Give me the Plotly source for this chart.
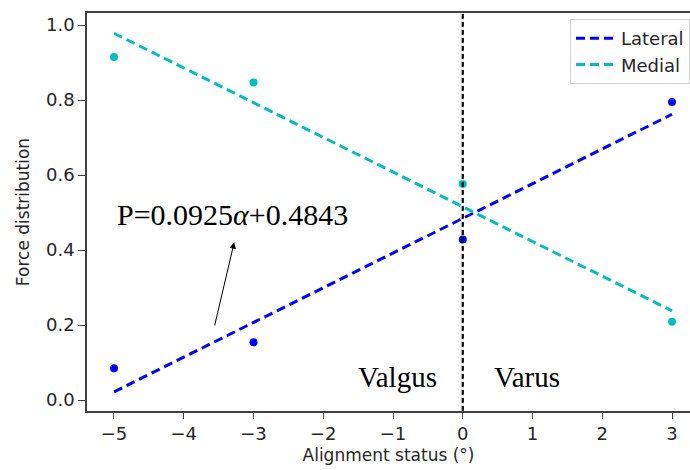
import plotly.graph_objects as go

# Data
angles = [-5, -3, 0, 3]
lateral = [0.085, 0.154, 0.428, 0.795]
medial = [0.915, 0.847, 0.576, 0.209]
fit_x = [-5, 3]
lateral_fit = [0.022, 0.762]
medial_fit = [0.978, 0.238]
x_ticks = [-5, -4, -3, -2, -1, 0, 1, 2, 3]
y_ticks = [0.0, 0.2, 0.4, 0.6, 0.8, 1.0]

BLUE = "#0000FF"
CYAN = "#00BFBF"
FONT = "DejaVu Sans"

fig = go.Figure()
fig.add_trace(go.Scatter(x=fit_x, y=lateral_fit, mode="lines", name="Lateral",
                         line=dict(color=BLUE, width=3, dash="9px,5px")))
fig.add_trace(go.Scatter(x=fit_x, y=medial_fit, mode="lines", name="Medial",
                         line=dict(color=CYAN, width=3, dash="9px,5px")))
fig.add_trace(go.Scatter(x=angles, y=lateral, mode="markers", showlegend=False,
                         marker=dict(color=BLUE, size=8)))
fig.add_trace(go.Scatter(x=angles, y=medial, mode="markers", showlegend=False,
                         marker=dict(color=CYAN, size=8)))

fig.add_shape(type="line", x0=0, x1=0, y0=0, y1=1, xref="x", yref="paper",
              line=dict(color="black", width=2.2, dash="5px,3px"))

fig.add_annotation(x=-3.304, y=0.496, text="P=0.0925<i>α</i>+0.4843", showarrow=False,
                   font=dict(family="Liberation Serif", size=30, color="black"))
fig.add_annotation(x=-3.276, y=0.421, ax=-3.562, ay=0.195, axref="x", ayref="y",
                   text="", showarrow=True, arrowhead=2, arrowsize=1.3, arrowwidth=1,
                   arrowcolor="black")
fig.add_annotation(x=-0.94, y=0.062, text="Valgus", showarrow=False,
                   font=dict(family="Liberation Serif", size=29, color="black"))
fig.add_annotation(x=0.914, y=0.062, text="Varus", showarrow=False,
                   font=dict(family="Liberation Serif", size=29, color="black"))

fig.update_layout(
    width=690, height=470,
    margin=dict(l=87, r=0, t=13, b=59, autoexpand=False),
    plot_bgcolor="white", paper_bgcolor="white",
    font=dict(family=FONT, size=18, color="#262626"),
    showlegend=True,
    legend=dict(x=1.0, xanchor="right", y=0.985, yanchor="top",
                bgcolor="white", bordercolor="#d0d0d0", borderwidth=1,
                tracegroupgap=0, itemwidth=40,
                font=dict(family=FONT, size=18, color="#262626")),
    xaxis=dict(range=[-5.387, 3.258], tickvals=x_ticks,
               ticktext=[("−" + str(abs(v))) if v < 0 else str(v) for v in x_ticks],
               showgrid=False, zeroline=False, showline=True, linecolor="#404040",
               linewidth=1.5, mirror=True, ticks="outside", ticklen=6, tickcolor="#404040",
               title=dict(text="Alignment status (°)", font=dict(size=17), standoff=6)),
    yaxis=dict(range=[-0.029, 1.032], tickvals=y_ticks,
               ticktext=["%.1f" % v for v in y_ticks],
               showgrid=False, zeroline=False, showline=True, linecolor="#404040",
               linewidth=1.5, mirror=False, ticks="outside", ticklen=7, tickcolor="#404040",
               title=dict(text="Force distribution", font=dict(size=17), standoff=12)),
)

fig.write_html("out.html")
